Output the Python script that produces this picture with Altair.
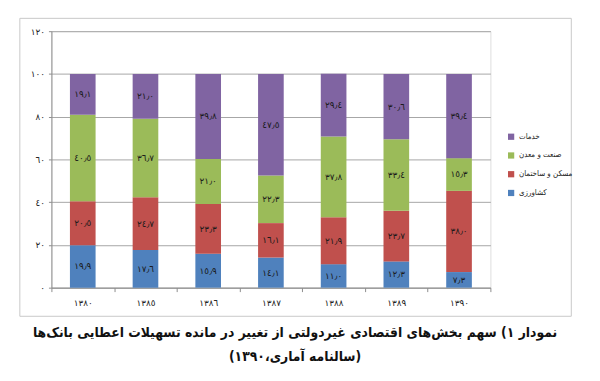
import altair as alt
import pandas as pd

years = ["١٣٨٠", "١٣٨٥", "١٣٨٦", "١٣٨٧", "١٣٨٨", "١٣٨٩", "١٣٩٠"]
sectors = ["کشاورزی", "مسکن و ساختمان", "صنعت و معدن", "خدمات"]
agri = [19.9, 17.6, 15.9, 14.1, 11.0, 12.3, 7.3]
housing = [20.5, 24.7, 23.3, 16.1, 21.9, 23.7, 38.0]
industry = [40.5, 36.7, 21.0, 22.3, 37.8, 33.4, 15.3]
services = [19.1, 21.0, 39.8, 47.5, 29.4, 30.6, 39.4]
colors = ["#4F81BD", "#C0504D", "#9BBB59", "#8064A2"]
y_ticks = [0, 20, 40, 60, 80, 100, 120]
y_tick_labels = ["٠", "٢٠", "٤٠", "٦٠", "٨٠", "١٠٠", "١٢٠"]
title_1 = "نمودار ۱) سهم بخش‌های اقتصادی غیردولتی از تغییر در مانده تسهیلات اعطایی بانک‌ها"
title_2 = "(سالنامه آماری،۱۳۹۰)"

AR = "٠١٢٣٤٥٦٧٨٩"


def to_ar(v):
    s = f"{v:.1f}".replace(".", "٫")
    return "".join(AR[int(c)] if c.isdigit() else c for c in s)


rows = []
for si, (name, vals) in enumerate(zip(sectors, [agri, housing, industry, services])):
    for yi, (yr, v) in enumerate(zip(years, vals)):
        rows.append({"year": yr, "sector": name, "idx": si, "value": v, "label": to_ar(v)})
df = pd.DataFrame(rows)

label_expr = "''"
for t, l in reversed(list(zip(y_ticks, y_tick_labels))):
    label_expr = f"datum.value == {t} ? '{l}' : ({label_expr})"

FONT = "DejaVu Sans"
CFONT = "DejaVu Sans Condensed"

base = alt.Chart(df).transform_stack(
    stack="value", groupby=["year"], as_=["v0", "v1"],
    sort=[alt.SortField("idx", order="ascending")]
).transform_calculate(mid="(datum.v0 + datum.v1) / 2")

xenc = alt.X("year:N", sort=years, title=None,
             scale=alt.Scale(paddingInner=0, paddingOuter=0),
             axis=alt.Axis(labelAngle=0, tickBand="extent", tickSize=4, tickColor="#8c8c8c",
                           domainColor="#8c8c8c", labelFont=FONT, labelFontSize=9,
                           labelColor="#222222", labelPadding=7, grid=False))

bars = base.mark_bar(width=26).encode(
    x=xenc,
    y=alt.Y("v0:Q", title=None,
            scale=alt.Scale(domain=[0, 120], nice=False),
            axis=alt.Axis(values=y_ticks, labelExpr=label_expr, tickSize=3,
                          tickColor="#8c8c8c", domainColor="#8c8c8c", gridColor="#a6a6a6",
                          labelFont=FONT, labelFontSize=9, labelColor="#222222",
                          labelPadding=4)),
    y2="v1:Q",
    color=alt.Color("sector:N",
                    scale=alt.Scale(domain=sectors[::-1], range=colors[::-1]),
                    legend=alt.Legend(title=None, orient="none", legendX=462, legendY=103,
                                      symbolType="square", symbolSize=40, symbolStrokeWidth=0,
                                      labelFont=CFONT, labelFontSize=8, labelColor="#222222",
                                      rowPadding=11, labelOffset=4)),
)

texts = base.mark_text(font=FONT, fontSize=9, color="#1a1a1a").encode(
    x=alt.X("year:N", sort=years),
    y=alt.Y("mid:Q"),
    text="label:N",
)

meta = alt.Data(values=[{"a": 1}])
frame = alt.Chart(meta).mark_rect(filled=False, stroke="#c8c8c8", strokeWidth=1).encode(
    x=alt.value(-32), x2=alt.value(527), y=alt.value(-13), y2=alt.value(289)
)
t1 = alt.Chart(alt.Data(values=[{"t": title_1}])).mark_text(
    font=CFONT, fontSize=14, fontWeight="bold", color="#111111"
).encode(x=alt.value(247), y=alt.value(306), text="t:N")
t2 = alt.Chart(alt.Data(values=[{"t": title_2}])).mark_text(
    font=CFONT, fontSize=14, fontWeight="bold", color="#111111"
).encode(x=alt.value(247), y=alt.value(330), text="t:N")

chart = alt.layer(frame, bars, texts, t1, t2).properties(
    width=445, height=260,
    padding={"left": 44, "top": 21, "right": 103, "bottom": 84},
    autosize=alt.AutoSizeParams(type="none"),
).configure_view(stroke=None).configure(background="white")

chart.save("out.html", embed_options={"renderer": "svg", "actions": False})
